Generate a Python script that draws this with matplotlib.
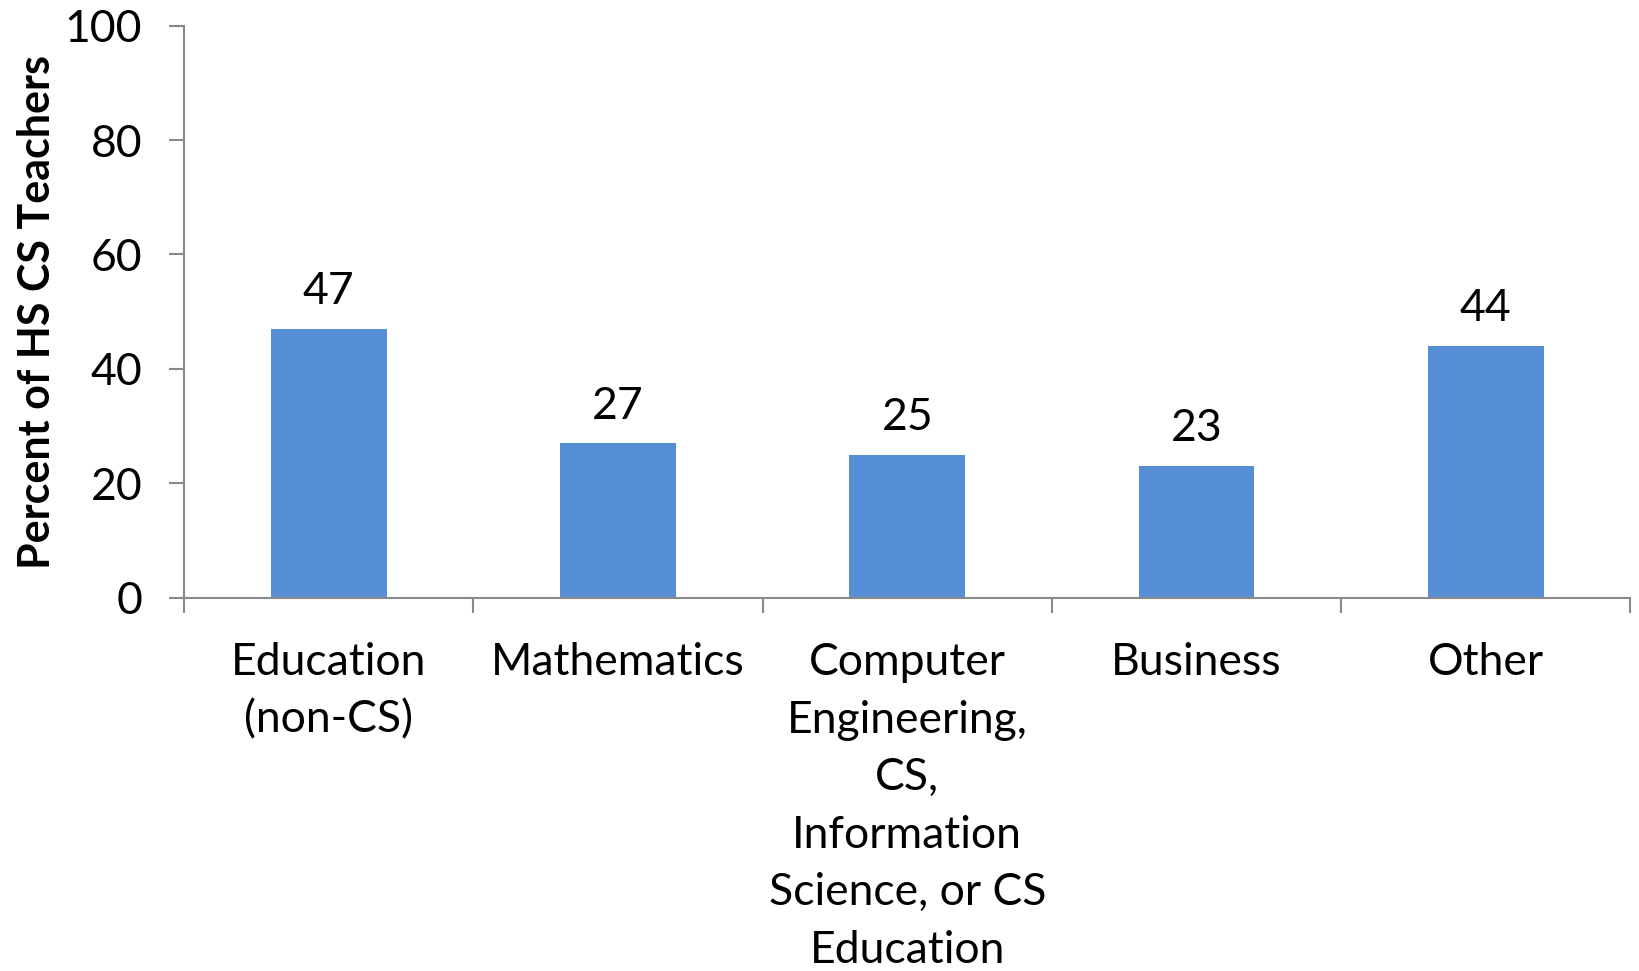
import matplotlib
matplotlib.use('Agg')
import matplotlib.pyplot as plt

categories = ['Education\n(non-CS)', 'Mathematics',
              'Computer\nEngineering,\nCS,\nInformation\nScience, or CS\nEducation',
              'Business', 'Other']
percents = [47, 27, 25, 23, 44]
yticks = [0, 20, 40, 60, 80, 100]

plt.rcParams['font.family'] = ['Lato', 'DejaVu Sans']

fig = plt.figure(figsize=(16.39, 9.71), dpi=100)
ax = fig.add_axes([0.1123, 0.3845, 0.8825, 0.5890])

x = list(range(len(categories)))
bars = ax.bar(x, percents, width=0.4, color='#558ED5', zorder=2)
for b, v in zip(bars, percents):
    ax.annotate(str(v), (b.get_x() + b.get_width() / 2, v), xytext=(0, 12),
                textcoords='offset points', ha='center', va='bottom', fontsize=32)

ax.set_xlim(-0.5, len(categories) - 0.5)
ax.set_ylim(0, 100)
ax.set_yticks(yticks)
ax.set_xticks(x)
ax.set_xticklabels(categories, fontsize=32, linespacing=1.5)
ax.set_xticks([i + 0.5 for i in range(-1, len(categories))], minor=True)
ax.tick_params(axis='x', which='major', length=0, pad=32)
ax.tick_params(axis='x', which='minor', length=11, width=1.5, color='#898989')
ax.tick_params(axis='y', labelsize=32, length=11, width=1.5, color='#898989', pad=19)

for s in ['top', 'right']:
    ax.spines[s].set_visible(False)
for s in ['left', 'bottom']:
    ax.spines[s].set_color('#898989')
    ax.spines[s].set_linewidth(1.5)

ax.set_ylabel('Percent of HS CS Teachers', fontsize=31, fontweight='bold', labelpad=6)

fig.savefig('out.png', dpi=100)
